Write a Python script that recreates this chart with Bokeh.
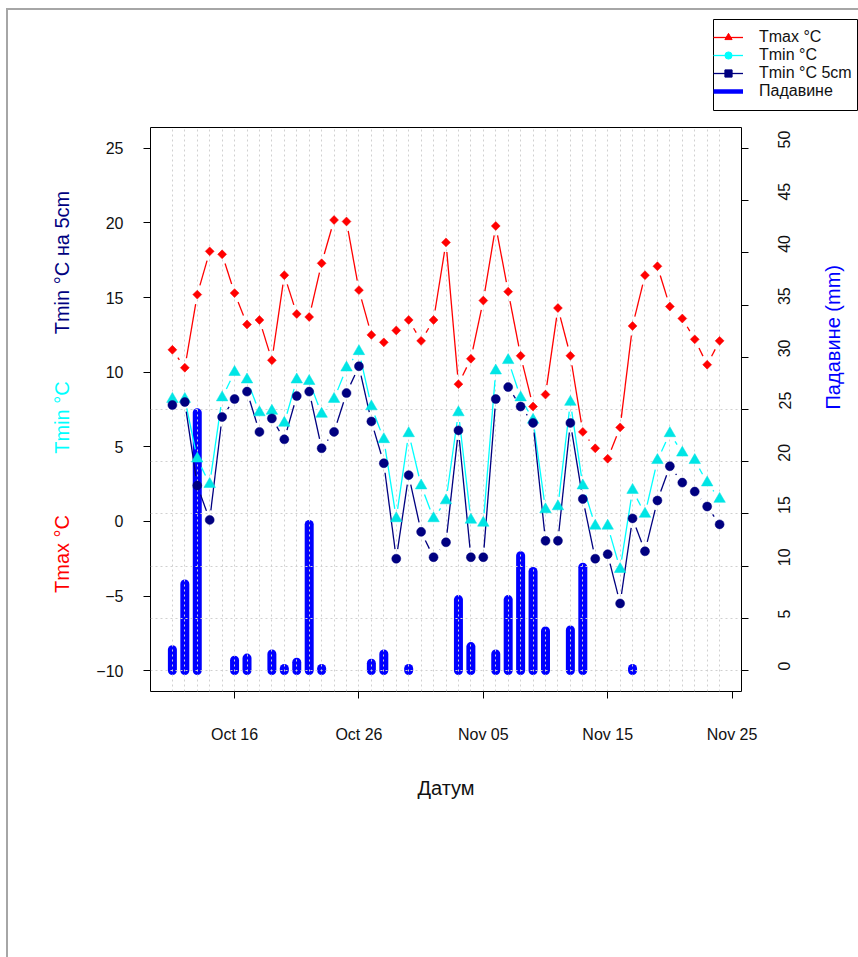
import math
import numpy as np
import pandas as pd
from bokeh.plotting import figure
from bokeh.models import (Range1d, LinearAxis, FixedTicker, Grid, Label, Legend,
                          LegendItem, ColumnDataSource)
from bokeh.embed import file_html
from bokeh.resources import INLINE

# ---------------- data ----------------
dates = pd.date_range("2021-10-11", periods=45, freq="D")

tmax = [11.5, 10.3, 15.2, 18.1, 17.9, 15.3, 13.2, 13.5, 10.8, 16.5,
        13.9, 13.7, 17.3, 20.2, 20.1, 15.5, 12.5, 12.0, 12.8, 13.5,
        12.1, 13.5, 18.7, 9.2, 10.9, 14.8, 19.8, 15.4, 11.1, 7.7,
        8.5, 14.3, 11.1, 6.0, 4.9, 4.2, 6.3, 13.1, 16.5, 17.1,
        14.4, 13.6, 12.2, 10.5, 12.1]

tmin = [8.2, 8.2, 4.2, 2.5, 8.3, 10.0, 9.5, 7.3, 7.4, 6.6,
        9.5, 9.4, 7.2, 8.2, 10.3, 11.4, 7.7, 5.5, 0.2, 5.9,
        2.4, 0.2, 1.4, 7.3, 0.1, -0.1, 10.1, 10.8, 8.3, 6.8,
        0.8, 1.0, 8.0, 2.4, -0.3, -0.3, -3.2, 2.1, 0.5, 4.1,
        5.9, 4.6, 4.1, 2.6, 1.5]

tmin5 = [7.8, 8.0, 2.4, 0.1, 7.0, 8.2, 8.7, 6.0, 6.9, 5.5,
         8.4, 8.7, 4.9, 6.0, 8.6, 10.4, 6.7, 3.9, -2.5, 3.1,
         -0.7, -2.4, -1.4, 6.1, -2.4, -2.4, 8.2, 9.0, 7.7, 6.6,
         -1.3, -1.3, 6.6, 1.5, -2.5, -2.2, -5.5, 0.2, -2.0, 1.4,
         3.7, 2.6, 2.0, 1.0, -0.2]

precip = [2.0, 8.3, 24.7, None, None, 1.0, 1.2, None, 1.6, 0.2,
          0.8, 14.0, 0.2, None, None, None, 0.7, 1.6, None, 0.2,
          None, None, None, 6.8, 2.3, None, 1.6, 6.8, 11.0, 9.5,
          3.8, None, 3.9, 9.9, None, None, None, 0.2, None, None,
          None, None, None, None, None]

x_tick_dates = ["2021-10-16", "2021-10-26", "2021-11-05", "2021-11-15", "2021-11-25"]
x_tick_labels = ["Oct 16", "Oct 26", "Nov 05", "Nov 15", "Nov 25"]
temp_ticks = [-10, -5, 0, 5, 10, 15, 20, 25]
precip_ticks = [0, 5, 10, 15, 20, 25, 30, 35, 40, 45, 50]
precip_grid = [0, 5, 10, 15, 20, 25]

series_labels = ["Tmax °C", "Tmin °C", "Tmin °C 5cm", "Падавине"]

# ---------------- styling ----------------
FONT = "Liberation Sans"
RED = "#ff0000"
CYAN = "#00ffff"
CYAN_M = "#00e5e5"
NAVY = "#000080"
BLUE = "#0000ff"

FW, FH = 591, 564            # frame size
ORG_X, ORG_Y = 8, 10         # canvas origin on the page (after margin + border)
FRAME_L, FRAME_T = 150, 127  # frame position on the page

xs = (dates.asi8 // 10**6).astype(np.int64)
span = float(xs[-1] - xs[0])
X0 = xs[0] - 0.04 * span
X1 = xs[-1] + 0.04 * span
T0, T1 = -10 - 0.04 * 35, 25 + 0.04 * 35
P0, P1 = 0 - 0.04 * 50, 50 + 0.04 * 50

SX = FW / (X1 - X0)   # px per ms
ST = FH / (T1 - T0)   # px per deg


def px_x(px):
    return X0 + (px - FRAME_L) / SX


def px_y(py):
    return T1 - (py - FRAME_T) / ST


def gapped(xv, yv, gap=9.6):
    a, b, c, d = [], [], [], []
    for i in range(len(xv) - 1):
        dxd = float(xv[i + 1] - xv[i])
        dyd = float(yv[i + 1] - yv[i])
        L = math.hypot(dxd * SX, dyd * ST)
        if L > 2 * gap:
            f = gap / L
            a.append(xv[i] + dxd * f)
            b.append(yv[i] + dyd * f)
            c.append(xv[i + 1] - dxd * f)
            d.append(yv[i + 1] - dyd * f)
    return dict(x0=a, y0=b, x1=c, y1=d)


BL = FRAME_L - ORG_X
BT = FRAME_T - ORG_Y
BR = (858 - ORG_X) - BL - FW
BB = (957 - ORG_Y) - BT - FH

p = figure(frame_width=FW, frame_height=FH,
           x_range=Range1d(X0, X1), y_range=Range1d(T0, T1),
           x_axis_type=None, y_axis_type=None,
           output_backend="svg", toolbar_location=None,
           min_border_left=BL, min_border_right=BR,
           min_border_top=BT, min_border_bottom=BB,
           background_fill_color="white", border_fill_color="white",
           outline_line_color="black", outline_line_width=1,
           styles={"margin-left": "6px", "margin-top": "8px",
                   "border-left": "2px solid #a6a6a6", "border-top": "2px solid #a6a6a6"})
p.extra_y_ranges = {"precip": Range1d(P0, P1)}

# axes
xaxis = LinearAxis(ticker=FixedTicker(ticks=[int(pd.Timestamp(d).value // 10**6) for d in x_tick_dates]),
                   major_label_overrides={int(pd.Timestamp(d).value // 10**6): l
                                          for d, l in zip(x_tick_dates, x_tick_labels)})
yaxis = LinearAxis(ticker=FixedTicker(ticks=temp_ticks))
raxis = LinearAxis(y_range_name="precip", ticker=FixedTicker(ticks=precip_ticks),
                   major_label_orientation=math.pi / 2)
for ax in (xaxis, yaxis, raxis):
    ax.axis_line_color = None
    ax.major_tick_out = 7
    ax.major_tick_in = 0
    ax.minor_tick_out = 0
    ax.minor_tick_in = 0
    ax.major_tick_line_color = "black"
    ax.major_label_text_font = FONT
    ax.major_label_text_font_size = "16px"
    ax.major_label_text_color = "#111111"
    ax.axis_label_text_font = FONT
    ax.axis_label_text_font_size = "20px"
    ax.axis_label_text_font_style = "normal"
xaxis.major_label_standoff = 27
yaxis.major_label_standoff = 20
raxis.major_label_standoff = 36

xaxis.axis_label = "Датум"
xaxis.axis_label_text_color = "#111111"
xaxis.axis_label_standoff = 31

raxis.axis_label = "Падавине (mm)"
raxis.axis_label_text_color = BLUE
raxis.axis_label_standoff = 33
if "axis_label_orientation" in raxis.properties():
    raxis.axis_label_orientation = math.pi / 2

p.add_layout(xaxis, "below")
p.add_layout(yaxis, "left")
p.add_layout(raxis, "right")

# precipitation bars (under the grid)
pi_idx = [i for i, v in enumerate(precip) if v is not None]
bar_src = ColumnDataSource(dict(x=[int(xs[i]) for i in pi_idx],
                                y0=[0.0] * len(pi_idx),
                                y1=[precip[i] for i in pi_idx]))
p.segment(x0="x", y0="y0", x1="x", y1="y1", source=bar_src, y_range_name="precip",
          line_color=BLUE, line_width=9, line_cap="round", level="image")

# grids
vgrid = Grid(dimension=0, ticker=FixedTicker(ticks=[int(v) for v in xs]),
             grid_line_color="#d0d0d0", grid_line_dash="2 3", grid_line_width=1)
hgrid = Grid(dimension=1, ticker=FixedTicker(ticks=precip_grid), y_range_name="precip",
             grid_line_color="#d0d0d0", grid_line_dash="2 3", grid_line_width=1)
p.add_layout(vgrid)
p.add_layout(hgrid)

# temperature series, R type "b" (lines with gaps around points)
src_max = ColumnDataSource(dict(x=xs, y=tmax))
src_min = ColumnDataSource(dict(x=xs, y=tmin))
src_m5 = ColumnDataSource(dict(x=xs, y=tmin5))

p.segment(x0="x0", y0="y0", x1="x1", y1="y1", source=ColumnDataSource(gapped(xs, tmax)),
          line_color=RED, line_width=1.3)
p.segment(x0="x0", y0="y0", x1="x1", y1="y1", source=ColumnDataSource(gapped(xs, tmin)),
          line_color=CYAN, line_width=1.3)
p.segment(x0="x0", y0="y0", x1="x1", y1="y1", source=ColumnDataSource(gapped(xs, tmin5)),
          line_color=NAVY, line_width=1.3)

p.scatter("x", "y", source=src_max, marker="square", angle=math.pi / 4, size=6.3,
          fill_color=RED, line_color=RED, line_width=0.5)
p.scatter("x", "y", source=src_min, marker="triangle", size=11.5,
          fill_color=CYAN_M, line_color=CYAN_M, line_width=0.5)
p.scatter("x", "y", source=src_m5, marker="circle", size=9,
          fill_color=NAVY, line_color=NAVY, line_width=0.5)


# left axis titles (in the left panel)
def title(text, px, py, color, angle):
    p.add_layout(Label(x=px_x(px), y=px_y(py), text=text, angle=angle,
                       text_align="center", text_baseline="middle",
                       text_font=FONT, text_font_size="20px", text_color=color), "left")


title("Tmin °C на 5cm", 61.5, 262, NAVY, math.pi / 2)
title("Tmin °C", 61.5, 417, CYAN, math.pi / 2)
title("Tmax °C", 61.5, 553.5, RED, math.pi / 2)

# legend: a small boxed figure laid over the top-right corner of the page
leg = figure(width=145, height=92, x_range=Range1d(0, 1), y_range=Range1d(0, 1),
             x_axis_type=None, y_axis_type=None,
             output_backend="svg", toolbar_location=None,
             min_border=0, min_border_left=0, min_border_right=0,
             min_border_top=0, min_border_bottom=0,
             background_fill_color="white", border_fill_color="white",
             outline_line_color="black", outline_line_width=1,
             styles={"position": "absolute", "left": "713px", "top": "19px"})
NAN = [float("nan")]
l1 = leg.line(x=NAN, y=NAN, line_color=RED, line_width=1.3)
m1 = leg.scatter(x=NAN, y=NAN, marker="triangle", size=6, fill_color=RED, line_color=RED)
l2 = leg.line(x=NAN, y=NAN, line_color=CYAN, line_width=1.3)
m2 = leg.scatter(x=NAN, y=NAN, marker="circle", size=4.5, fill_color=CYAN, line_color=CYAN)
l3 = leg.line(x=NAN, y=NAN, line_color=NAVY, line_width=1.3)
m3 = leg.scatter(x=NAN, y=NAN, marker="square", size=5, fill_color=NAVY, line_color=NAVY)
l4 = leg.line(x=NAN, y=NAN, line_color=BLUE, line_width=4.5)
legend = Legend(items=[LegendItem(label=series_labels[0], renderers=[l1, m1]),
                       LegendItem(label=series_labels[1], renderers=[l2, m2]),
                       LegendItem(label=series_labels[2], renderers=[l3, m3]),
                       LegendItem(label=series_labels[3], renderers=[l4])],
                location=(0, 11), orientation="vertical",
                border_line_color=None, background_fill_alpha=0.0,
                label_text_font=FONT, label_text_font_size="16px",
                label_text_color="#111111",
                padding=4, spacing=0, margin=0,
                glyph_width=30, glyph_height=18, label_height=18, label_standoff=16)
leg.add_layout(legend)

open("out.html", "w").write(file_html([p, leg], INLINE))
